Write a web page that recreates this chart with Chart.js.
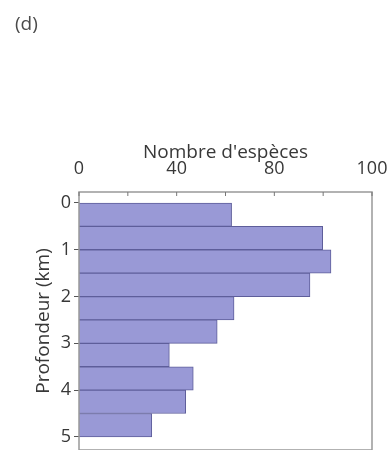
<!DOCTYPE html>
<html>
<head>
<meta charset="utf-8">
<script src="https://cdn.jsdelivr.net/npm/chart.js@4/dist/chart.umd.min.js"></script>
<style>
  html, body { margin: 0; padding: 0; background: #fff; }
  #wrap { width: 391px; height: 450px; }
</style>
</head>
<body>
<div id="wrap"><canvas id="myChart" width="391" height="450"></canvas></div>
<script>
// number of species per 0.5 km depth slice
const depthMid = [0.25, 0.75, 1.25, 1.75, 2.25, 2.75, 3.25, 3.75, 4.25, 4.75];
const species = [62.5, 99.8, 103.2, 94.6, 63.5, 56.6, 37.0, 46.8, 43.7, 29.8];
const depthTicks = [0, 1, 2, 3, 4, 5];
const xTickValues = [0, 20, 40, 60, 80, 100, 120];
const xTickLabels = ["0", "", "40", "", "80", "", "100"];

Chart.defaults.font.family = '"Open Sans", "Noto Sans", sans-serif';
Chart.defaults.color = "#383838";

// frame round the plot, inward ticks on top, and the panel letter
const framePlugin = {
  id: "frame",
  afterDraw(chart) {
    const ctx = chart.ctx;
    const a = chart.chartArea;
    const xs = chart.scales.x;
    ctx.save();
    ctx.strokeStyle = "#999";
    ctx.lineWidth = 1.5;
    ctx.strokeRect(a.left, a.top, a.right - a.left, a.bottom - a.top);
    ctx.strokeStyle = "#777";
    ctx.lineWidth = 1;
    ctx.beginPath();
    for (const v of xTickValues) {
      const px = xs.getPixelForValue(v);
      ctx.moveTo(px, a.top);
      ctx.lineTo(px, a.top + 4);
    }
    ctx.stroke();
    ctx.fillStyle = "#4a4a4a";
    ctx.font = '19px "Open Sans", sans-serif';
    ctx.textBaseline = "middle";
    ctx.fillText("(d)", 15, 25);
    ctx.restore();
  }
};

const myChart = new Chart("myChart", {
  type: "bar",
  data: {
    datasets: [{
      data: depthMid.map((d, i) => ({ x: species[i], y: d })),
      backgroundColor: "#9999d6",
      borderColor: "#5e5e9a",
      borderWidth: 1,
      barPercentage: 1,
      categoryPercentage: 1
    }]
  },
  options: {
    indexAxis: "y",
    responsive: false,
    animation: false,
    layout: { padding: { top: 141, right: 19, left: 30, bottom: 0 } },
    plugins: { legend: { display: false }, tooltip: { enabled: false } },
    scales: {
      x: {
        type: "linear",
        position: "top",
        min: 0,
        max: 120,
        afterBuildTicks: s => { s.ticks = xTickValues.map(v => ({ value: v })); },
        afterFit: s => { s.height = 51; s.paddingLeft = 0; s.paddingRight = 0; },
        ticks: {
          font: { size: 18 },
          padding: 4,
          maxRotation: 0,
          autoSkip: false,
          callback: (v, i) => xTickLabels[i]
        },
        grid: { display: false },
        border: { display: false },
        title: { display: true, text: "Nombre d'espèces", font: { size: 19 }, padding: { top: 0, bottom: 0 } }
      },
      y: {
        type: "linear",
        reverse: true,
        offset: false,
        min: -0.235,
        max: 5.28,
        afterBuildTicks: s => { s.ticks = depthTicks.map(v => ({ value: v })); },
        afterFit: s => { s.width = 49; s.paddingTop = 0; s.paddingBottom = 0; },
        ticks: { font: { size: 18 }, padding: 3, autoSkip: false },
        grid: { drawOnChartArea: false, offset: false, tickLength: 5, color: "#555" },
        border: { display: false },
        title: { display: true, text: "Profondeur (km)", font: { size: 19 }, padding: { top: 2, bottom: 0 } }
      }
    }
  },
  plugins: [framePlugin]
});
</script>
</body>
</html>
